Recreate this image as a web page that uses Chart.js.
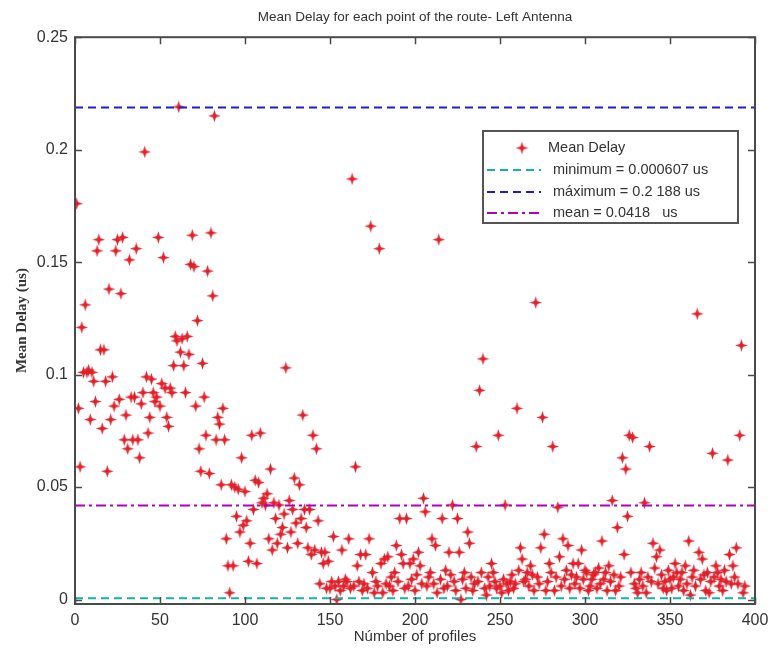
<!DOCTYPE html>
<html>
<head>
<meta charset="utf-8">
<script src="https://cdn.jsdelivr.net/npm/chart.js@4.4.1/dist/chart.umd.min.js"></script>
<style>
  html, body { margin: 0; padding: 0; background: #fff; }
  canvas { display: block; }
</style>
</head>
<body>
<canvas id="chart" width="770" height="652"></canvas>
<script>
// mean delay (us) for each profile of the route, profile n = index + 1
const meanDelay = [
  0.176, 0.085, 0.059, 0.121, 0.101, 0.131, 0.101, 0.102, 0.080, 0.101,
  0.097, 0.088, 0.155, 0.160, 0.111, 0.076, 0.111, 0.097, 0.057, 0.138,
  0.080, 0.099, 0.086, 0.155, 0.160, 0.089, 0.136, 0.161, 0.071, 0.082,
  0.067, 0.151, 0.090, 0.071, 0.090, 0.156, 0.071, 0.063, 0.087, 0.092,
  0.199, 0.099, 0.074, 0.081, 0.098, 0.092, 0.088, 0.090, 0.161, 0.086,
  0.096, 0.152, 0.094, 0.081, 0.077, 0.094, 0.092, 0.104, 0.117, 0.115,
  0.219, 0.110, 0.116, 0.104, 0.092, 0.117, 0.109, 0.149, 0.162, 0.148,
  0.086, 0.124, 0.067, 0.057, 0.105, 0.090, 0.073, 0.146, 0.056, 0.163,
  0.135, 0.215, 0.071, 0.081, 0.078, 0.051, 0.085, 0.071, 0.027, 0.015,
  0.003, 0.051, 0.015, 0.050, 0.037, 0.049, 0.030, 0.063, 0.033, 0.048,
  0.035, 0.017, 0.025, 0.073, 0.040, 0.053, 0.016, 0.052, 0.074, 0.043,
  0.045, 0.042, 0.047, 0.027, 0.058, 0.022, 0.043, 0.036, 0.025, 0.042,
  0.029, 0.032, 0.038, 0.103, 0.023, 0.044, 0.030, 0.040, 0.054, 0.034,
  0.025, 0.051, 0.036, 0.082, 0.040, 0.032, 0.023, 0.040, 0.020, 0.073,
  0.022, 0.067, 0.035, 0.007, 0.021, 0.016, 0.021, 0.005, 0.017, 0.005,
  0.008, 0.028, 0.006, 0.000, 0.008, 0.004, 0.022, 0.006, 0.009, 0.008,
  0.027, 0.005, 0.187, 0.006, 0.059, 0.015, 0.008, 0.020, 0.004, 0.007,
  0.020, 0.005, 0.027, 0.166, 0.012, 0.003, 0.008, 0.006, 0.156, 0.016,
  0.003, 0.018, 0.007, 0.019, 0.006, 0.010, 0.004, 0.012, 0.024, 0.008,
  0.036, 0.020, 0.016, 0.005, 0.036, 0.006, 0.016, 0.009, 0.018, 0.004,
  0.011, 0.021, 0.015, 0.007, 0.045, 0.039, 0.006, 0.010, 0.012, 0.027,
  0.007, 0.024, 0.003, 0.160, 0.009, 0.036, 0.005, 0.013, 0.006, 0.021,
  0.011, 0.042, 0.008, 0.004, 0.036, 0.021, 0.000, 0.009, 0.012, 0.005,
  0.030, 0.025, 0.010, 0.004, 0.007, 0.068, 0.008, 0.093, 0.012, 0.107,
  0.005, 0.002, 0.010, 0.006, 0.016, 0.012, 0.008, 0.005, 0.073, 0.006,
  0.003, 0.009, 0.042, 0.007, 0.004, 0.008, 0.011, 0.005, 0.007, 0.085,
  0.013, 0.023, 0.018, 0.008, 0.009, 0.012, 0.006, 0.015, 0.011, 0.004,
  0.132, 0.010, 0.007, 0.023, 0.081, 0.029, 0.004, 0.008, 0.016, 0.012,
  0.068, 0.004, 0.010, 0.041, 0.019, 0.006, 0.027, 0.009, 0.013, 0.024,
  0.005, 0.011, 0.016, 0.007, 0.010, 0.016, 0.005, 0.022, 0.009, 0.013,
  0.012, 0.004, 0.006, 0.009, 0.011, 0.012, 0.005, 0.014, 0.007, 0.026,
  0.009, 0.012, 0.004, 0.015, 0.008, 0.044, 0.011, 0.004, 0.032, 0.006,
  0.010, 0.063, 0.020, 0.058, 0.037, 0.073, 0.012, 0.072, 0.007, 0.005,
  0.003, 0.009, 0.012, 0.006, 0.043, 0.003, 0.010, 0.068, 0.008, 0.025,
  0.014, 0.019, 0.007, 0.022, 0.011, 0.005, 0.008, 0.004, 0.013, 0.009,
  0.005, 0.010, 0.016, 0.012, 0.006, 0.009, 0.012, 0.004, 0.015, 0.007,
  0.026, 0.002, 0.010, 0.013, 0.006, 0.127, 0.021, 0.009, 0.018, 0.011,
  0.004, 0.012, 0.003, 0.008, 0.065, 0.010, 0.015, 0.012, 0.006, 0.009,
  0.004, 0.013, 0.008, 0.062, 0.020, 0.007, 0.015, 0.010, 0.023, 0.007,
  0.073, 0.113, 0.003, 0.006
];

const xTicks = [0, 50, 100, 150, 200, 250, 300, 350, 400];
const yTicks = [0, 0.05, 0.1, 0.15, 0.2, 0.25];

// reference levels
const minDelay = 0.000607;
const maxDelay = 0.2188;
const avgDelay = 0.0418;

const legendLabels = [
  'Mean Delay',
  'minimum = 0.000607 us',
  'máximum = 0.2 188 us',
  'mean = 0.0418   us'
];

const RED = 'rgb(226, 32, 42)';
const CYAN = 'rgb(20, 178, 170)';
const BLUE = 'rgb(28, 28, 210)';
const MAGENTA = 'rgb(176, 0, 190)';
const AXIS = '#4a4a4a';

// little 4 point star used as marker
function makeStar(color) {
  const s = 13, c = s / 2;
  const cv = document.createElement('canvas');
  cv.width = s; cv.height = s;
  const g = cv.getContext('2d');
  g.fillStyle = color;
  g.beginPath();
  for (let i = 0; i < 8; i++) {
    const r = i % 2 === 0 ? 6.3 : 2.1;
    const a = i * Math.PI / 4 - Math.PI / 2;
    g.lineTo(c + r * Math.cos(a), c + r * Math.sin(a));
  }
  g.closePath();
  g.fill();
  return cv;
}
const star = makeStar(RED);

function hline(value) {
  return [{ x: 0, y: value }, { x: 400, y: value }];
}

// box with inward ticks on the four sides
const frame = {
  id: 'frame',
  afterDatasetsDraw(chart) {
    const { ctx, chartArea: a, scales } = chart;
    ctx.save();
    ctx.strokeStyle = AXIS;
    ctx.lineWidth = 2;
    ctx.strokeRect(a.left, a.top, a.right - a.left, a.bottom - a.top);
    ctx.lineWidth = 1.5;
    ctx.beginPath();
    xTicks.forEach(v => {
      const px = Math.round(scales.x.getPixelForValue(v)) + 0.5;
      ctx.moveTo(px, a.bottom); ctx.lineTo(px, a.bottom - 7);
      ctx.moveTo(px, a.top); ctx.lineTo(px, a.top + 7);
    });
    yTicks.forEach(v => {
      const py = Math.round(scales.y.getPixelForValue(v)) + 0.5;
      ctx.moveTo(a.left, py); ctx.lineTo(a.left + 7, py);
      ctx.moveTo(a.right, py); ctx.lineTo(a.right - 7, py);
    });
    ctx.stroke();
    ctx.restore();
  }
};

// legend box in the upper right corner
const boxLegend = {
  id: 'boxLegend',
  afterDraw(chart) {
    const ctx = chart.ctx;
    const x0 = 483, y0 = 131, w = 255, h = 92;
    ctx.save();
    ctx.fillStyle = '#fff';
    ctx.fillRect(x0, y0, w, h);
    ctx.strokeStyle = '#555';
    ctx.lineWidth = 2;
    ctx.strokeRect(x0, y0, w, h);

    ctx.font = '14.5px "Liberation Sans", Arial, sans-serif';
    ctx.fillStyle = '#333';
    ctx.textBaseline = 'middle';
    const rows = [148, 170, 192, 213];

    ctx.drawImage(star, 522 - star.width / 2, rows[0] - star.height / 2);
    ctx.fillText(legendLabels[0], 548, rows[0]);

    const sets = chart.data.datasets.slice(1);
    sets.forEach((ds, i) => {
      const y = rows[i + 1];
      ctx.strokeStyle = ds.borderColor;
      ctx.lineWidth = 2;
      ctx.setLineDash(ds.borderDash);
      ctx.beginPath();
      ctx.moveTo(487, y); ctx.lineTo(541, y);
      ctx.stroke();
      ctx.setLineDash([]);
      ctx.fillText(legendLabels[i + 1], 553, y);
    });
    ctx.restore();
  }
};

const tickFont = { family: '"Liberation Sans", Arial, sans-serif', size: 16 };

new Chart(document.getElementById('chart'), {
  type: 'scatter',
  data: {
    datasets: [
      {
        label: legendLabels[0],
        data: meanDelay.map((v, i) => ({ x: i + 1, y: v })),
        pointStyle: star,
        order: 4
      },
      {
        label: legendLabels[1],
        data: hline(minDelay),
        showLine: true, pointRadius: 0,
        borderColor: CYAN, borderWidth: 2, borderDash: [8, 5],
        order: 3
      },
      {
        label: legendLabels[2],
        data: hline(maxDelay),
        showLine: true, pointRadius: 0,
        borderColor: BLUE, borderWidth: 2, borderDash: [8, 5],
        order: 2
      },
      {
        label: legendLabels[3],
        data: hline(avgDelay),
        showLine: true, pointRadius: 0,
        borderColor: MAGENTA, borderWidth: 2, borderDash: [10, 4, 3, 4],
        order: 1
      }
    ]
  },
  options: {
    responsive: false,
    animation: false,
    layout: { padding: { left: 0, right: 15, top: 0, bottom: 0 } },
    plugins: {
      legend: { display: false },
      tooltip: { enabled: false },
      title: {
        display: true,
        fullSize: false,
        text: 'Mean Delay for each point of the route- Left Antenna',
        color: '#333',
        font: { family: '"Liberation Sans", Arial, sans-serif', size: 13.5, weight: 'normal' },
        padding: { top: 9, bottom: 12 }
      }
    },
    scales: {
      x: {
        type: 'linear',
        min: 0, max: 400,
        grid: { display: false, drawTicks: false },
        border: { display: false },
        afterBuildTicks: axis => { axis.ticks = xTicks.map(v => ({ value: v })); },
        afterFit: axis => {
          axis.height = 48;
          // let the last label hang over the right edge
          axis.paddingLeft = 0;
          axis.paddingRight = 0;
        },
        ticks: { color: '#333', font: tickFont, padding: 7, maxRotation: 0 },
        title: {
          display: true,
          text: 'Númber of profiles',
          color: '#333',
          font: { family: '"Liberation Sans", Arial, sans-serif', size: 15 },
          padding: { top: 0, bottom: 6 }
        }
      },
      y: {
        type: 'linear',
        min: -0.002, max: 0.25,
        grid: { display: false, drawTicks: false },
        border: { display: false },
        afterBuildTicks: axis => { axis.ticks = yTicks.map(v => ({ value: v })); },
        afterFit: axis => { axis.width = 75; },
        ticks: { color: '#333', font: tickFont, padding: 7, callback: v => String(v) },
        title: {
          display: true,
          text: 'Mean Delay (us)',
          color: '#333',
          font: { family: '"Liberation Serif", "Times New Roman", serif', size: 15, weight: 'bold' },
          padding: { top: 13, bottom: 0 }
        }
      }
    }
  },
  plugins: [frame, boxLegend]
});
</script>
</body>
</html>
